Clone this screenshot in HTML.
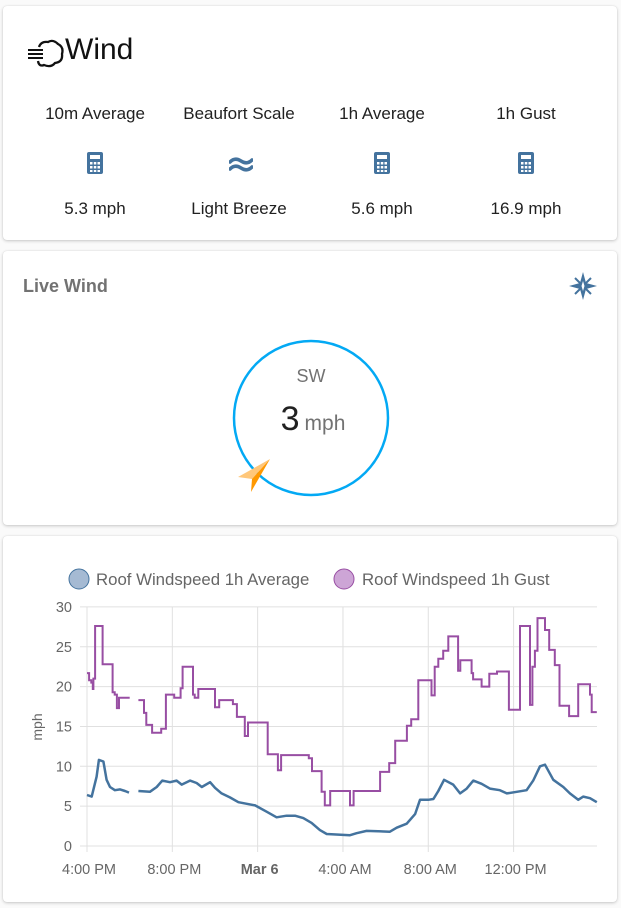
<!DOCTYPE html>
<html><head><meta charset="utf-8">
<style>
body{margin:0;background:#fafafa;width:621px;height:908px;overflow:hidden;font-family:"Liberation Sans",sans-serif;position:relative}
.card{position:absolute;left:3px;width:614px;background:#fff;border-radius:4px;box-shadow:0 1px 3px rgba(0,0,0,0.2),0 0 1px rgba(0,0,0,0.12)}
.col{position:absolute;width:144px;text-align:center;font-size:17px;color:#212121}
</style></head><body>
<div class="card" style="top:6px;height:234px">
  <svg style="position:absolute;left:23px;top:32px" width="40" height="32" viewBox="0 0 40 32">
    <path d="M13 9 Q15 3 22 4 Q27 1 32 6 Q38 9 36 16 Q37 24 29 25 Q25 30 18 27 Q13 29 12 23" fill="none" stroke="#111" stroke-width="2.3"/>
    <path d="M2 12 H17 M2 16 H17 M2 20 H17" stroke="#111" stroke-width="2"/>
  </svg>
  <div style="position:absolute;left:62px;top:27px;font-size:30px;color:#111">Wind</div>
  <div class="col" style="left:20px;top:98px">10m Average</div>
  <div class="col" style="left:164px;top:98px">Beaufort Scale</div>
  <div class="col" style="left:307px;top:98px">1h Average</div>
  <div class="col" style="left:451px;top:98px">1h Gust</div>
  <svg style="position:absolute;left:84px;top:146px" width="16" height="22" viewBox="0 0 16 22"><rect x="0" y="0" width="16" height="22" rx="2" fill="#44739e"/><rect x="3" y="3" width="10" height="4" fill="#fff"/><g fill="#fff"><rect x="3" y="10" width="2.5" height="2.5"/><rect x="6.8" y="10" width="2.5" height="2.5"/><rect x="10.5" y="10" width="2.5" height="2.5"/><rect x="3" y="14" width="2.5" height="2.5"/><rect x="6.8" y="14" width="2.5" height="2.5"/><rect x="10.5" y="14" width="2.5" height="2.5"/><rect x="3" y="18" width="2.5" height="2"/><rect x="6.8" y="18" width="2.5" height="2"/><rect x="10.5" y="18" width="2.5" height="2"/></g></svg>
  <svg style="position:absolute;left:226px;top:150px" width="24" height="16" viewBox="0 0 24 16"><path d="M1 6 Q6 1 12 5 Q18 9 23 4 M1 13 Q6 8 12 12 Q18 16 23 11" fill="none" stroke="#44739e" stroke-width="3.5" stroke-linecap="round"/></svg>
  <svg style="position:absolute;left:371px;top:146px" width="16" height="22" viewBox="0 0 16 22"><rect x="0" y="0" width="16" height="22" rx="2" fill="#44739e"/><rect x="3" y="3" width="10" height="4" fill="#fff"/><g fill="#fff"><rect x="3" y="10" width="2.5" height="2.5"/><rect x="6.8" y="10" width="2.5" height="2.5"/><rect x="10.5" y="10" width="2.5" height="2.5"/><rect x="3" y="14" width="2.5" height="2.5"/><rect x="6.8" y="14" width="2.5" height="2.5"/><rect x="10.5" y="14" width="2.5" height="2.5"/><rect x="3" y="18" width="2.5" height="2"/><rect x="6.8" y="18" width="2.5" height="2"/><rect x="10.5" y="18" width="2.5" height="2"/></g></svg>
  <svg style="position:absolute;left:515px;top:146px" width="16" height="22" viewBox="0 0 16 22"><rect x="0" y="0" width="16" height="22" rx="2" fill="#44739e"/><rect x="3" y="3" width="10" height="4" fill="#fff"/><g fill="#fff"><rect x="3" y="10" width="2.5" height="2.5"/><rect x="6.8" y="10" width="2.5" height="2.5"/><rect x="10.5" y="10" width="2.5" height="2.5"/><rect x="3" y="14" width="2.5" height="2.5"/><rect x="6.8" y="14" width="2.5" height="2.5"/><rect x="10.5" y="14" width="2.5" height="2.5"/><rect x="3" y="18" width="2.5" height="2"/><rect x="6.8" y="18" width="2.5" height="2"/><rect x="10.5" y="18" width="2.5" height="2"/></g></svg>
  <div class="col" style="left:20px;top:193px">5.3 mph</div>
  <div class="col" style="left:164px;top:193px">Light Breeze</div>
  <div class="col" style="left:307px;top:193px">5.6 mph</div>
  <div class="col" style="left:451px;top:193px">16.9 mph</div>
</div>

<div class="card" style="top:251px;height:274px">
  <div style="position:absolute;left:20px;top:25px;font-size:18px;font-weight:bold;color:#727272">Live Wind</div>
  <svg style="position:absolute;left:565px;top:20px" width="30" height="30" viewBox="-15 -15 30 30"><path d="M0 -14 L3 -3 L14 0 L3 3 L0 14 L-3 3 L-14 0 L-3 -3 Z" fill="#44739e"/><path d="M-8 -8 L-2 -2 M8 -8 L2 -2 M-8 8 L-2 2 M8 8 L2 2" stroke="#44739e" stroke-width="2"/><path d="M0 -5 L1.5 0 L0 5 L-1.5 0 Z" fill="#fff"/></svg>
  <svg style="position:absolute;left:0;top:0" width="614" height="274">
    <circle cx="308" cy="167" r="77" fill="none" stroke="#03a9f4" stroke-width="2.5"/>
    <text x="308" y="131" text-anchor="middle" font-size="18" fill="#727272" font-family="Liberation Sans, sans-serif">SW</text>
    <text x="310" y="179" text-anchor="middle" font-family="Liberation Sans, sans-serif"><tspan font-size="34" fill="#212121">3</tspan><tspan font-size="21" fill="#727272" dx="5">mph</tspan></text>
    <g><path d="M267 208 L235 226 L249 228 Z" fill="#ffc77a"/><path d="M267 208 L249 228 L248 241 Z" fill="#ff9800"/></g>
  </svg>
</div>

<div class="card" style="top:536px;height:366px"></div>
<svg id="chart" style="position:absolute;left:0;top:0" width="621" height="908"></svg>
<script>
const avgT=[0,0.22,0.45,0.56,0.77,0.92,1.08,1.31,1.55,1.78,1.97,null,2.41,2.95,3.27,3.53,3.89,4.2,4.44,4.83,5.14,5.38,5.77,6.0,6.31,6.7,7.1,7.49,7.88,8.42,8.89,9.36,9.75,10.14,10.53,10.92,11.24,12.33,12.64,13.11,14.2,14.52,14.99,15.38,15.61,16.0,16.24,16.47,16.74,17.17,17.49,17.8,18.11,18.5,18.89,19.36,19.68,20.15,20.61,20.92,21.24,21.47,21.86,22.33,22.64,23.03,23.27,23.58,23.9];
const avgV=[6.4,6.2,8.7,10.8,10.6,8.3,7.4,7.0,7.1,6.9,6.7,null,6.9,6.8,7.4,8.2,8.0,8.2,7.7,8.2,7.9,7.4,8.0,7.3,6.6,6.1,5.5,5.3,5.1,4.3,3.6,3.8,3.8,3.5,2.9,2.0,1.5,1.35,1.6,1.9,1.8,2.3,2.8,4.0,5.8,5.8,5.9,6.9,8.3,7.7,6.6,7.2,8.2,7.8,7.2,7.0,6.6,6.8,7.0,8.2,10.0,10.2,8.3,7.4,6.6,5.8,6.2,6.0,5.5];
const gustT=[0,0.1,0.2,0.27,0.3,0.38,0.73,1.2,1.3,1.4,1.5,2.0,2.41,2.67,2.78,3.05,3.48,3.70,4.09,4.39,4.48,4.97,5.05,5.22,6.0,6.2,6.84,7.03,7.4,7.55,8.47,8.95,9.1,10.4,10.55,11.0,11.15,11.4,12.33,12.5,13.74,14.17,14.45,15.0,15.2,15.53,16.15,16.3,16.47,16.7,16.94,17.4,17.5,18.03,18.1,18.5,18.86,19.22,19.78,20.3,20.77,20.88,21.0,21.12,21.47,21.67,21.93,22.15,22.6,23.03,23.58,23.66,23.9];
const gustV=[21.7,20.8,20.5,19.7,21.0,27.6,22.8,19.3,19.0,17.3,18.6,null,18.3,16.7,15.2,14.2,14.7,19.0,18.6,19.8,22.5,19.0,18.6,19.7,17.4,18.3,17.8,16.2,13.8,15.5,11.5,9.5,11.4,11.0,9.4,6.8,5.1,6.9,5.1,6.9,9.3,10.4,13.2,15.1,15.9,20.8,18.9,22.5,23.5,24.5,26.3,22.0,23.3,21.7,20.9,20.0,21.6,21.9,17.1,27.6,17.7,22.5,24.5,28.6,27.1,24.6,22.7,17.6,16.3,20.3,19.0,16.8,16.8];
const yTicks=[0,5,10,15,20,25,30];
const xTickT=[0,4,8,12,16,20];
const xTickLabels=["4:00 PM","8:00 PM","Mar 6","4:00 AM","8:00 AM","12:00 PM"];
const legendLabels=["Roof Windspeed 1h Average","Roof Windspeed 1h Gust"];

const svg=document.getElementById('chart');
const NS='http://www.w3.org/2000/svg';
const X0=87,XMAX=597,Y0=846,PX_H=21.33,PX_V=7.97;
function xs(t){return X0+t*PX_H;}
function ys(v){return Y0-v*PX_V;}
function mk(tag,attrs){const e=document.createElementNS(NS,tag);for(const k in attrs)e.setAttribute(k,attrs[k]);svg.appendChild(e);return e;}
const F='Liberation Sans, sans-serif';
yTicks.forEach(v=>{
  const l=mk('line',{x1:80,x2:XMAX,y1:ys(v),y2:ys(v),stroke:'#e0e0e0','stroke-width':1});
  
  
  const t=mk('text',{x:72,y:ys(v)+5,'text-anchor':'end','font-size':14.5,fill:'#666','font-family':F});
  t.textContent=v;
  
  
});
xTickT.forEach((tt,i)=>{
  const l=mk('line',{x1:xs(tt),x2:xs(tt),y1:ys(30),y2:Y0+6,stroke:'#e0e0e0','stroke-width':1});
  
  
  const t=mk('text',{x:xs(tt)+2,y:874,'text-anchor':'middle','font-size':14.5,fill:'#666','font-family':F,'font-weight':i==2?'bold':'normal'});
  t.textContent=xTickLabels[i];
  
  
});
const yt=mk('text',{x:0,y:0,transform:'translate(42,727) rotate(-90)','text-anchor':'middle','font-size':14,fill:'#666','font-family':F});
yt.textContent='mph';



let d='',pen=false;
for(let i=0;i<gustT.length;i++){
  const v=gustV[i];
  if(v===null){pen=false;continue;}
  if(!pen){d+='M'+xs(gustT[i]).toFixed(1)+' '+ys(v).toFixed(1);pen=true;}
  else d+='V'+ys(v).toFixed(1);
  if(i+1<gustT.length) d+='H'+xs(gustT[i+1]).toFixed(1);
}
const gp=mk('path',{d:d,fill:'none',stroke:'#984ea3','stroke-width':2});


let d2='';pen=false;
for(let i=0;i<avgT.length;i++){
  if(avgV[i]===null){pen=false;continue;}
  d2+=(pen?'L':'M')+xs(avgT[i]).toFixed(1)+' '+ys(avgV[i]).toFixed(1);pen=true;
}
const ap=mk('path',{d:d2,fill:'none',stroke:'#44739e','stroke-width':2.5,'stroke-linejoin':'round'});



const lc=[['#a5bad3','#44739e',79,96],['#cda5d6','#984ea3',344,362]];
legendLabels.forEach((s,i)=>{
  const c=mk('circle',{cx:lc[i][2],cy:579,r:10,fill:lc[i][0],stroke:lc[i][1],'stroke-width':1});
  
  
  const t=mk('text',{x:lc[i][3],y:585,'font-size':16.8,fill:'#666','font-family':F});
  t.textContent=s;
  
  
});
</script>
</body></html>
